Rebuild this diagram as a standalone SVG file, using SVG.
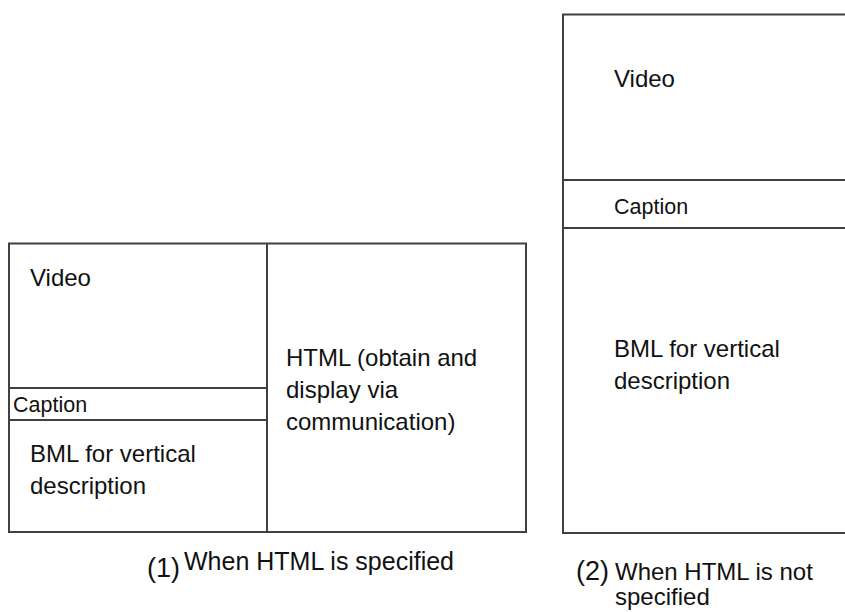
<svg xmlns="http://www.w3.org/2000/svg" width="845" height="612" viewBox="0 0 845 612">
  <style>
    .frame { fill: #ffffff; stroke: #404040; stroke-width: 2; }
    .rule { fill: none; stroke: #404040; stroke-width: 2; }
    .lbl { font-family: "Liberation Sans", Arial, sans-serif; font-size: 24px; fill: #111111; }
    .small { font-family: "Liberation Sans", Arial, sans-serif; font-size: 21.5px; fill: #111111; }
    .num { font-family: "Liberation Sans", Arial, sans-serif; font-size: 27px; fill: #111111; }
  </style>
  <rect width="845" height="612" fill="#ffffff"/>

  <!-- (1) layout with HTML pane -->
  <g id="layout-with-html">
    <rect class="frame" x="9" y="243.5" width="517" height="288.5"/>
    <line class="rule" x1="267" y1="243.5" x2="267" y2="532"/>
    <g id="video-1">
      <text class="lbl" x="30" y="286">Video</text>
    </g>
    <g id="caption-1">
      <line class="rule" x1="9" y1="388" x2="267" y2="388"/>
      <text class="small" x="13" y="412">Caption</text>
      <line class="rule" x1="9" y1="420" x2="267" y2="420"/>
    </g>
    <g id="bml-1">
      <text class="lbl" x="30" y="462">BML for vertical</text>
      <text class="lbl" x="30" y="494">description</text>
    </g>
    <g id="html-1">
      <text class="lbl" x="286" y="366">HTML (obtain and</text>
      <text class="lbl" x="286" y="398">display via</text>
      <text class="lbl" x="286" y="430">communication)</text>
    </g>
  </g>
  <g id="title-1">
    <text class="num" x="147" y="577">(1)</text>
    <text class="lbl" x="184" y="570" style="font-size:25px">When HTML is specified</text>
  </g>

  <!-- (2) layout without HTML pane -->
  <g id="layout-without-html">
    <rect class="frame" x="563" y="14.5" width="300" height="518.5"/>
    <g id="video-2">
      <text class="lbl" x="614" y="87">Video</text>
    </g>
    <g id="caption-2">
      <line class="rule" x1="563" y1="180" x2="845" y2="180"/>
      <text class="small" x="614" y="214">Caption</text>
      <line class="rule" x1="563" y1="228" x2="845" y2="228"/>
    </g>
    <g id="bml-2">
      <text class="lbl" x="614" y="357">BML for vertical</text>
      <text class="lbl" x="614" y="389">description</text>
    </g>
  </g>
  <g id="title-2">
    <text class="num" x="576" y="580">(2)</text>
    <text class="lbl" x="615" y="580">When HTML is not</text>
    <text class="lbl" x="615" y="605">specified</text>
  </g>
</svg>
